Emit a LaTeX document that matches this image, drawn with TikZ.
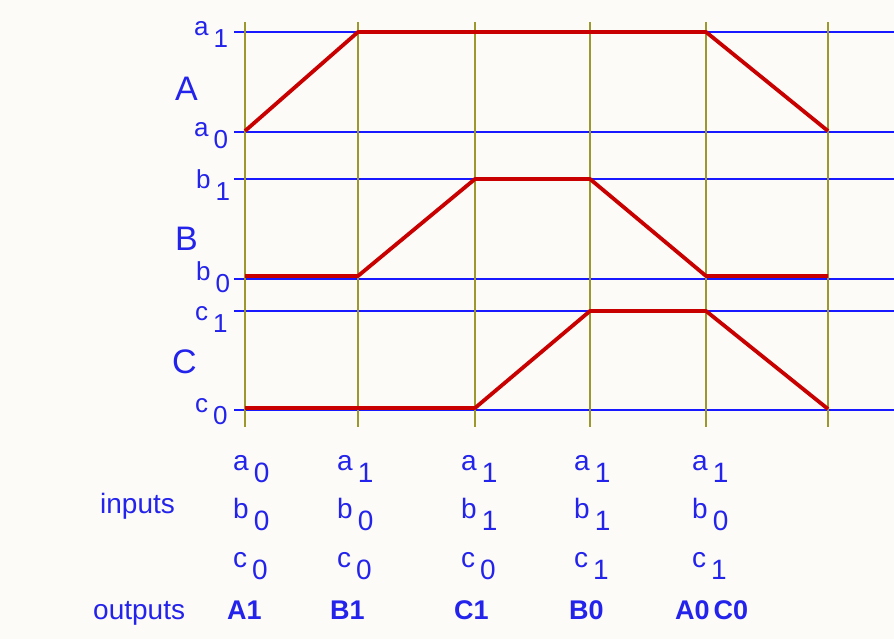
\documentclass[tikz,border=0pt]{standalone}
\usepackage{fontspec}
\setmainfont{Liberation Sans}
\definecolor{txtblue}{RGB}{35,35,235}
\definecolor{lineblue}{RGB}{25,25,255}
\definecolor{olive}{RGB}{156,152,46}
\definecolor{sigred}{RGB}{200,0,0}
\definecolor{paper}{RGB}{252,251,247}
\newcommand{\subx}[2]{#1\hspace{5pt}\raisebox{-12pt}{#2}}
\tikzset{
  level/.style={draw=lineblue, line width=2.2pt},
  timeline/.style={draw=olive, line width=2.4pt},
  signal/.style={draw=sigred, line width=3.8pt, line join=round},
  sidelbl/.style={anchor=base west, inner sep=0pt, text=txtblue, font=\fontsize{26}{26}\selectfont},
  biglbl/.style={anchor=base west, inner sep=0pt, text=txtblue, font=\fontsize{34}{34}\selectfont},
  inlbl/.style={anchor=base west, inner sep=0pt, text=txtblue, font=\fontsize{28}{28}\selectfont},
  outlbl/.style={anchor=base west, inner sep=0pt, text=txtblue, font=\fontsize{27}{27}\selectfont\bfseries},
}
\begin{document}
\begin{tikzpicture}[x=1pt,y=-1pt]
\fill[paper] (0,0) rectangle (894,639);
\useasboundingbox (0,0) rectangle (894,639);
% level lines
\foreach \n/\y in {aone/32, azero/132, bone/179, bzero/279, cone/311, czero/410}{
  \coordinate (\n-s) at (234,\y);
  \coordinate (\n-e) at (894,\y);
  \draw[level] (\n-s) -- (\n-e);
}
% time lines
\foreach \n/\x in {t1/245, t2/358, t3/475, t4/590, t5/706, t6/828}{
  \coordinate (\n-top) at (\x,22);
  \coordinate (\n-bot) at (\x,427);
  \draw[timeline] (\n-top) -- (\n-bot);
}
% signal points
\coordinate (A1) at (245,131); \coordinate (A2) at (358,32); \coordinate (A3) at (706,32); \coordinate (A4) at (828,131);
\coordinate (B1) at (245,276); \coordinate (B2) at (358,276); \coordinate (B3) at (475,179); \coordinate (B4) at (590,179); \coordinate (B5) at (706,276); \coordinate (B6) at (828,276);
\coordinate (C1) at (245,408); \coordinate (C2) at (475,408); \coordinate (C3) at (590,311); \coordinate (C4) at (706,311); \coordinate (C5) at (828,409);
\draw[signal] (A1) -- (A2) -- (A3) -- (A4);
\draw[signal] (B1) -- (B2) -- (B3) -- (B4) -- (B5) -- (B6);
\draw[signal] (C1) -- (C2) -- (C3) -- (C4) -- (C5);
% side labels
\node[sidelbl] (la1) at (194,36) {\subx{a}{1}};
\node[sidelbl] (la0) at (194,137) {\subx{a}{0}};
\node[sidelbl] (lb1) at (196,189) {\subx{b}{1}};
\node[sidelbl] (lb0) at (196,280) {\subx{b}{0}};
\node[sidelbl] (lc1) at (195,320) {\subx{c}{1}};
\node[sidelbl] (lc0) at (195,412) {\subx{c}{0}};
\node[biglbl] (lA) at (175,101) {A};
\node[biglbl] (lB) at (175,250) {B};
\node[biglbl] (lC) at (172,373) {C};
% inputs table
\node[inlbl] (inputs) at (100,513) {inputs};
\node[inlbl] (outputs) at (93,619) {outputs};
\foreach \c/\x/\a/\b/\cc in {1/233/0/0/0, 2/337/1/0/0, 3/461/1/1/0, 4/574/1/1/1, 5/692/1/0/1}{
  \node[inlbl] (ia\c) at (\x,470) {\subx{a}{\a}};
  \node[inlbl] (ib\c) at (\x,518) {\subx{b}{\b}};
  \node[inlbl] (ic\c) at (\x,567) {\subx{c}{\cc}};
}
\node[outlbl] (o1) at (227,619) {A1};
\node[outlbl] (o2) at (330,619) {B1};
\node[outlbl] (o3) at (454,619) {C1};
\node[outlbl] (o4) at (569,619) {B0};
\node[outlbl] (o5) at (675,619) {A0\hspace{4pt}C0};
\end{tikzpicture}
\end{document}
